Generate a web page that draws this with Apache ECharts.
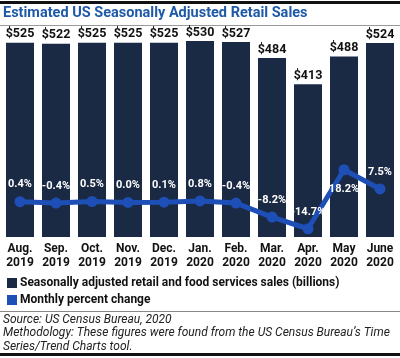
<!DOCTYPE html>
<html style="height: 100%">
<head>
    <meta charset="UTF-8">
    <script src="https://cdn.jsdelivr.net/npm/echarts@6/dist/echarts.min.js"></script>
</head>
<body style="height: 100%; margin: 0; background: #fff">
    <div id="main" style="width: 400px; height: 358px;"></div>
    <script type="text/javascript">
        // data
        var months = ['Aug.\n2019', 'Sep.\n2019', 'Oct.\n2019', 'Nov.\n2019', 'Dec.\n2019', 'Jan.\n2020',
            'Feb.\n2020', 'Mar.\n2020', 'Apr.\n2020', 'May\n2020', 'June\n2020'];
        var sales = [525, 522, 525, 525, 525, 530, 527, 484, 413, 488, 524];
        var pctChange = [0.4, -0.4, 0.5, 0.0, 0.1, 0.8, -0.4, -8.2, -14.7, 18.2, 7.5];

        var font = 'Roboto, "Noto Sans", sans-serif';
        var navy = '#1b2a44';
        var blue = '#1d4fb6';

        var myChart = echarts.init(document.getElementById('main'));

        var lineData = pctChange.map(function (v, i) {
            var item = { value: v };
            // May label sits below its point
            if (i === 9) item.label = { position: 'bottom', distance: 8 };
            return item;
        });

        var option = {
            animation: false,
            textStyle: { fontFamily: font },
            grid: { left: 2, right: 2, top: 15, bottom: 121 },
            legend: {
                orient: 'vertical',
                left: 2,
                top: 272,
                itemWidth: 10,
                itemHeight: 10,
                itemGap: 5,
                icon: 'rect',
                textStyle: { fontFamily: font, fontWeight: 'bold', fontSize: 12, color: '#111', padding: [0, 0, 0, -2] },
                data: ['Seasonally adjusted retail and food services sales (billions)', 'Monthly percent change']
            },
            xAxis: {
                type: 'category',
                data: months,
                axisLine: { show: false },
                axisTick: { show: false },
                axisLabel: {
                    interval: 0,
                    margin: 5,
                    color: '#111',
                    fontWeight: 'bold',
                    fontSize: 12,
                    lineHeight: 14,
                    fontFamily: font
                }
            },
            yAxis: [
                { type: 'value', min: 0, max: 600, show: false },
                { type: 'value', min: -19.3, max: 104.5, show: false }
            ],
            series: [
                {
                    name: 'Seasonally adjusted retail and food services sales (billions)',
                    type: 'bar',
                    data: sales,
                    barWidth: 28,
                    itemStyle: { color: navy },
                    label: {
                        show: true,
                        position: 'top',
                        distance: 2,
                        formatter: function (p) { return '$' + p.value; },
                        color: '#111',
                        fontWeight: 'bold',
                        fontSize: 12.5,
                        fontFamily: font
                    }
                },
                {
                    name: 'Monthly percent change',
                    type: 'line',
                    yAxisIndex: 1,
                    data: lineData,
                    symbol: 'circle',
                    symbolSize: 11,
                    lineStyle: { color: blue, width: 5 },
                    itemStyle: { color: blue },
                    label: {
                        show: true,
                        position: 'top',
                        distance: 6,
                        formatter: function (p) { return p.value.toFixed(1) + '%'; },
                        color: '#fff',
                        fontWeight: 'bold',
                        fontSize: 11,
                        fontFamily: font
                    },
                    z: 5
                }
            ],
            graphic: [
                { type: 'rect', shape: { x: 0, y: 1, width: 400, height: 3 }, style: { fill: '#111' } },
                {
                    type: 'text', left: 3, top: 6,
                    style: { text: 'Estimated US Seasonally Adjusted Retail Sales', fill: '#1f5aa8', font: 'bold 14.5px ' + font }
                },
                { type: 'rect', shape: { x: 0, y: 25, width: 400, height: 1 }, style: { fill: '#999' } },
                { type: 'rect', shape: { x: 0, y: 311, width: 400, height: 1 }, style: { fill: '#888' } },
                {
                    type: 'text', left: 3, top: 313,
                    style: {
                        text: 'Source: US Census Bureau, 2020\nMethodology: These figures were found from the US Census Bureau\u2019s Time\nSeries/Trend Charts tool.',
                        fill: '#222', font: 'italic 12px ' + font, lineHeight: 13.5
                    }
                },
                { type: 'rect', shape: { x: 0, y: 353, width: 400, height: 3 }, style: { fill: '#111' } }
            ]
        };

        myChart.setOption(option);
    </script>
</body>
</html>
